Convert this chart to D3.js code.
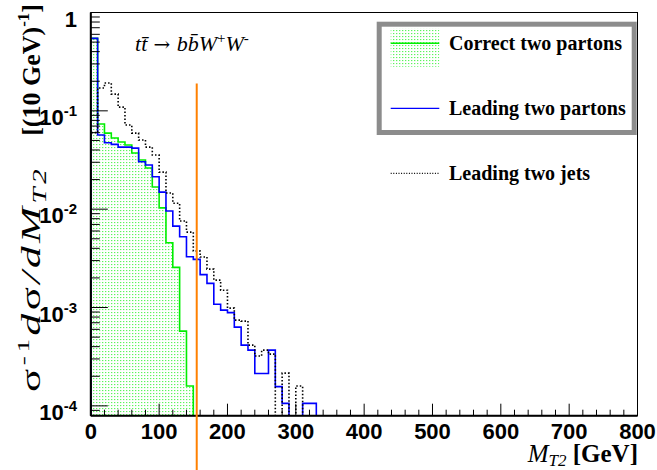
<!DOCTYPE html>
<html>
<head>
<meta charset="utf-8">
<script src="https://cdn.jsdelivr.net/npm/d3@7"></script>
<style>
  body { margin: 0; background: #fff; }
</style>
</head>
<body>
<div id="chart"></div>
<script>
// histogram contents, 10 GeV bins starting at 0 (missing bins are empty)
const binWidth = 10;
const correctPartons = [0.546, 0.0734, 0.0594, 0.0529, 0.0482, 0.0449, 0.0372, 0.0316, 0.0262, 0.0168,
  0.0103, 0.00455, 0.00256, 0.000575, 0.000159];
const leadingPartons = [0.546, 0.0567, 0.0474, 0.0456, 0.0428, 0.0428, 0.0418, 0.0304, 0.0281, 0.0214,
  0.0149, 0.00957, 0.00673, 0.00524, 0.00328, 0.00309, 0.00216, 0.00176, 0.00108, 0.000941,
  0.000887, 0.000632, 0.000415, 0.000369, 0.000213, 0.000213, 0.000369, 0.000157, 0.000106, 0,
  0, 0.000106, 0.000106];
const leadingJets = [0.06, 0.171, 0.192, 0.148, 0.109, 0.0717, 0.0594, 0.0505, 0.0428, 0.0355,
  0.0238, 0.0146, 0.0115, 0.00757, 0.00585, 0.00375, 0.00326, 0.00246, 0.0019, 0.0015,
  0.000986, 0.000745, 0.000728, 0.000415, 0.000321, 0.000369, 0.000336, 0, 0.000215, 0,
  0.000159];
const xTicks = [0, 100, 200, 300, 400, 500, 600, 700, 800];
const yDecades = [1e-4, 1e-3, 1e-2, 1e-1, 1];
const yTickLabels = [["10", "-4"], ["10", "-3"], ["10", "-2"], ["10", "-1"], ["1", ""]];
const legendLabels = ["Correct two partons", "Leading two partons", "Leading two jets"];
const mt2Cut = 155;      // vertical marker
const cutTop = 0.19;

const width = 657;
const height = 470;
const plot = { left: 90.8, right: 637.5, top: 12.5, bottom: 415.7 };

const svg = d3.select("#chart")
  .append("svg")
  .attr("width", width)
  .attr("height", height);

const x = d3.scaleLinear().domain([0, 800]).range([plot.left, plot.right]);
const y = d3.scaleLog().domain([Math.pow(10, -4.1), 1]).range([plot.bottom, plot.top]);

const defs = svg.append("defs");
defs.append("clipPath").attr("id", "clip")
  .append("rect")
  .attr("x", plot.left).attr("y", plot.top)
  .attr("width", plot.right - plot.left).attr("height", plot.bottom - plot.top);

const pat = defs.append("pattern")
  .attr("id", "dots")
  .attr("patternUnits", "userSpaceOnUse")
  .attr("width", 3).attr("height", 3);
pat.append("rect").attr("width", 3).attr("height", 3).attr("fill", "#fff");
pat.append("rect").attr("width", 1.3).attr("height", 1.1).attr("fill", "#5cf55c");

function yVal(v) {
  return v > y.domain()[0] ? y(v) : plot.bottom;
}

function stepPath(vals) {
  const p = d3.path();
  p.moveTo(x(0), plot.bottom);
  const nBins = 800 / binWidth;
  for (let i = 0; i < nBins; i++) {
    const v = i < vals.length ? vals[i] : 0;
    p.lineTo(x(i * binWidth), yVal(v));
    p.lineTo(x((i + 1) * binWidth), yVal(v));
  }
  p.lineTo(x(800), plot.bottom);
  return p.toString();
}

const g = svg.append("g").attr("clip-path", "url(#clip)");

g.append("path")
  .attr("d", stepPath(correctPartons) + "Z")
  .attr("fill", "url(#dots)")
  .attr("stroke", "#00ee00")
  .attr("stroke-width", 1.6);

g.append("path")
  .attr("d", stepPath(leadingPartons))
  .attr("fill", "none")
  .attr("stroke", "#0000ff")
  .attr("stroke-width", 1.6);

g.append("path")
  .attr("d", stepPath(leadingJets))
  .attr("fill", "none")
  .attr("stroke", "#000")
  .attr("stroke-width", 1.6)
  .attr("stroke-dasharray", "1.5,2");

// frame
svg.append("rect")
  .attr("x", plot.left).attr("y", plot.top)
  .attr("width", plot.right - plot.left).attr("height", plot.bottom - plot.top)
  .attr("fill", "none").attr("stroke", "#000").attr("stroke-width", 1);

// x axis
const xAxis = svg.append("g");
xAxis.append("line")
  .attr("x1", plot.left).attr("x2", plot.right)
  .attr("y1", plot.bottom).attr("y2", plot.bottom)
  .attr("stroke", "#000").attr("stroke-width", 2);
d3.range(0, 801, 20).forEach(t => {
  const major = t % 100 === 0;
  xAxis.append("line")
    .attr("x1", x(t)).attr("x2", x(t))
    .attr("y1", plot.bottom).attr("y2", plot.bottom - (major ? 12 : 6))
    .attr("stroke", "#000").attr("stroke-width", 1);
});
xAxis.selectAll("text.tick")
  .data(xTicks)
  .join("text")
  .attr("x", d => x(d))
  .attr("y", 439)
  .attr("text-anchor", "middle")
  .attr("font-family", "Liberation Sans, Arial, sans-serif")
  .attr("font-weight", "bold")
  .attr("font-size", 22)
  .text(d => d);

// y axis
const yAxis = svg.append("g");
yAxis.append("line")
  .attr("x1", plot.left).attr("x2", plot.left)
  .attr("y1", plot.top).attr("y2", plot.bottom)
  .attr("stroke", "#000").attr("stroke-width", 2);
const yMinor = [];
[-5, -4, -3, -2, -1].forEach(e => {
  for (let m = 2; m <= 9; m++) {
    const v = m * Math.pow(10, e);
    if (v >= y.domain()[0] && v <= 1) yMinor.push(v);
  }
});
yAxis.selectAll("line.minor")
  .data(yMinor)
  .join("line")
  .attr("x1", plot.left).attr("x2", plot.left + 9)
  .attr("y1", d => y(d)).attr("y2", d => y(d))
  .attr("stroke", "#000").attr("stroke-width", 1);
yAxis.selectAll("line.major")
  .data(yDecades)
  .join("line")
  .attr("x1", plot.left).attr("x2", plot.left + 17)
  .attr("y1", d => y(d)).attr("y2", d => y(d))
  .attr("stroke", "#000").attr("stroke-width", 1);
yDecades.forEach((d, i) => {
  const t = yAxis.append("text")
    .attr("x", 77)
    .attr("y", y(d) + 14)
    .attr("text-anchor", "end")
    .attr("font-family", "Liberation Sans, Arial, sans-serif")
    .attr("font-weight", "bold")
    .attr("font-size", 22);
  t.append("tspan").text(yTickLabels[i][0]);
  if (yTickLabels[i][1]) {
    t.append("tspan").attr("dy", -9).attr("font-size", 15).text(yTickLabels[i][1]);
  }
});

// orange marker
svg.append("line")
  .attr("x1", x(mt2Cut)).attr("x2", x(mt2Cut))
  .attr("y1", y(cutTop)).attr("y2", height)
  .attr("stroke", "#ff8000").attr("stroke-width", 2);

// process label
const proc = svg.append("text")
  .attr("x", 135).attr("y", 51)
  .attr("font-family", "Liberation Serif, Times New Roman, serif")
  .attr("font-style", "italic")
  .attr("font-size", 22);
proc.append("tspan").text("t");
proc.append("tspan").text("t\u0304");
proc.append("tspan").attr("font-style", "normal").attr("font-family", "DejaVu Serif, serif")
  .attr("font-size", 20).text(" \u2192 ");
proc.append("tspan").text("b");
proc.append("tspan").text("b\u0304");
proc.append("tspan").text("W");
proc.append("tspan").attr("dy", -8).attr("font-size", 15).attr("font-style", "normal").text("+");
proc.append("tspan").attr("dy", 8).text("W");
proc.append("tspan").attr("dy", -8).attr("font-size", 15).attr("font-style", "normal").text("-");

// legend
svg.append("rect")
  .attr("x", 379.2).attr("y", 24.2)
  .attr("width", 255).attr("height", 108.3)
  .attr("fill", "#fff")
  .attr("stroke", "#8c8c8c").attr("stroke-width", 5);
const legendY = [43.3, 108.3, 173.3];
svg.append("rect")
  .attr("x", 390.7).attr("y", 28.3).attr("width", 48.6).attr("height", 38.4)
  .attr("fill", "url(#dots)");
svg.append("line")
  .attr("x1", 390.7).attr("x2", 439.3).attr("y1", legendY[0]).attr("y2", legendY[0])
  .attr("stroke", "#00ee00").attr("stroke-width", 1.6);
svg.append("line")
  .attr("x1", 390.7).attr("x2", 439.3).attr("y1", legendY[1]).attr("y2", legendY[1])
  .attr("stroke", "#0000ff").attr("stroke-width", 1.2);
svg.append("line")
  .attr("x1", 390.7).attr("x2", 439.3).attr("y1", legendY[2]).attr("y2", legendY[2])
  .attr("stroke", "#000").attr("stroke-width", 1.2).attr("stroke-dasharray", "1,1.6");
svg.selectAll("text.legend")
  .data(legendLabels)
  .join("text")
  .attr("x", 449)
  .attr("y", (d, i) => legendY[i] + 7)
  .attr("font-family", "Liberation Serif, Times New Roman, serif")
  .attr("font-weight", "bold")
  .attr("font-size", 20)
  .text(d => d);

// x title
const xt = svg.append("text")
  .attr("x", 638).attr("y", 462)
  .attr("text-anchor", "end")
  .attr("font-family", "Liberation Serif, Times New Roman, serif")
  .attr("font-size", 25);
xt.append("tspan").attr("font-style", "italic").text("M");
xt.append("tspan").attr("font-style", "italic").attr("font-size", 17).attr("dy", 4).text("T2");
xt.append("tspan").attr("font-weight", "bold").attr("dy", -4).text(" [GeV]");

// y title (stretched along its length like the original)
const yt = svg.append("g").attr("transform", "translate(40,392) rotate(-90)");
const yt1 = yt.append("text")
  .attr("transform", "scale(1.6,1)")
  .attr("letter-spacing", 2.2)
  .attr("font-family", "Liberation Serif, Times New Roman, serif")
  .attr("font-size", 27);
yt1.append("tspan").text("\u03c3");
yt1.append("tspan").attr("font-size", 17).attr("dy", -11).text("-1");
yt1.append("tspan").attr("font-style", "italic").attr("dy", 11).text("d");
yt1.append("tspan").text("\u03c3");
yt1.append("tspan").attr("font-style", "italic").text("/dM");
yt1.append("tspan").attr("font-style", "italic").attr("font-size", 18).attr("dy", 6).text("T2");
const yt2 = yt.append("text")
  .attr("x", 388).attr("y", 0)
  .attr("text-anchor", "end")
  .attr("font-family", "Liberation Serif, Times New Roman, serif")
  .attr("font-weight", "bold")
  .attr("font-size", 26);
yt2.append("tspan").text("[(10 GeV)");
yt2.append("tspan").attr("font-size", 17).attr("dy", -11).text("-1");
yt2.append("tspan").attr("dy", 11).text("]");
</script>
</body>
</html>
